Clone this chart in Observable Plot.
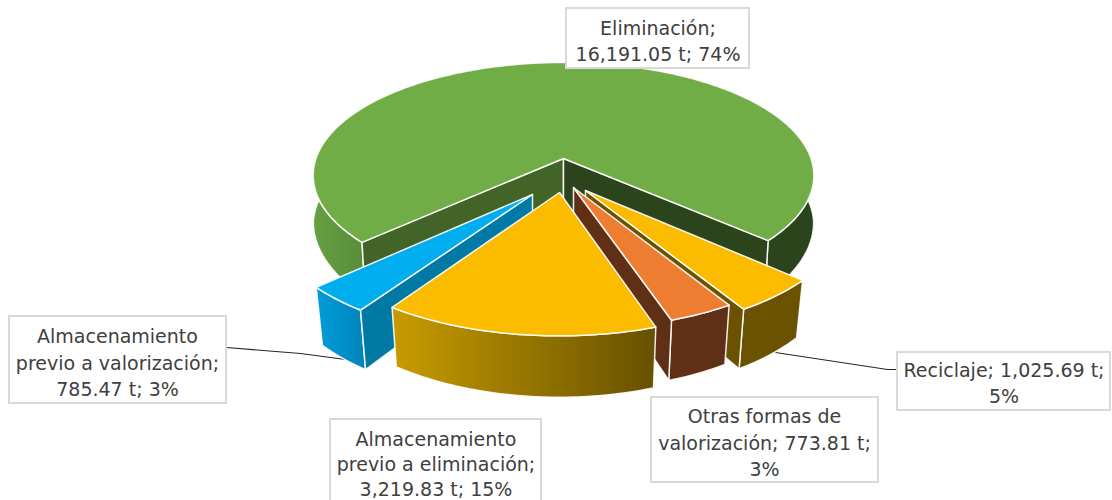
<!DOCTYPE html>
<html><head><meta charset="utf-8">
<script src="https://cdn.jsdelivr.net/npm/d3@7"></script>
<script src="https://cdn.jsdelivr.net/npm/@observablehq/plot@0.6"></script>
<style>html,body{margin:0;padding:0;background:#fff;overflow:hidden}</style>
</head><body><div id="chart"></div>
<script>
// Data, in drawing order around the pie, clockwise
const names = ["Reciclaje","Otras formas de valorización","Almacenamiento previo a eliminación","Almacenamiento previo a valorización","Eliminación"];
const tonnes = [1025.69,773.81,3219.83,785.47,16191.05];
const labelTexts = [
  "Reciclaje; 1,025.69 t;\n5%",
  "Otras formas de\nvalorización; 773.81 t;\n3%",
  "Almacenamiento\nprevio a eliminación;\n3,219.83 t; 15%",
  "Almacenamiento\nprevio a valorización;\n785.47 t; 3%",
  "Eliminación;\n16,191.05 t; 74%"
];

// Layout and style (chart units equal pixels)
const startAngle = 42;
const apexes = [[585,190],[573,187],[559,192],[532,194],[563,158]];
const topFill = ["#fbbc00","#ed7d31","#fbbc00","#00adef","#70ad47"];
const wallFill = ["#6b5200","#5f3015","url(#gElim)","url(#gVal)","url(#gGreen)"];
const startFace = [null,null,null,"#0079a5","#426527"];       // face at the slice's start edge
const endFace = ["#6b5200","#5f3015",null,null,"#2b441c"];    // face at the slice's end edge
const drawOrder = [4,3,0,1,2];
const boxes = [
  {x1:897,x2:1110,y1:352,y2:410,tx:1003.5,ty:381,lh:1.4},
  {x1:651,x2:878,y1:397,y2:482,tx:764,ty:440.5,lh:1.4},
  {x1:330,x2:541,y1:419,y2:504,tx:435.5,ty:462.5,lh:1.33},
  {x1:9,x2:226,y1:316,y2:403,tx:117,ty:360.5,lh:1.4},
  {x1:566,x2:749,y1:8,y2:68,tx:657.5,ty:39,lh:1.4}
];
const leaders = [
  [[775,352],[887,369],[897,369]],
  [[226,347],[300,353],[345,359]]
];

// Perspective of the pie's top plane
const cx = 561.5, cy = 158, a = 247.5, b = 110.4, k = 0.15;
const proj = (u,v) => { const w = 1-k*v; return {x:cx+a*u/w, y:cy+b*v/w}; };
const unproj = ([px,py]) => {
  const v = (py-cy)/(b+k*(py-cy));
  return [(px-cx)*(1-k*v)/a, v];
};
const drop = p => {
  const s = 1-0.025*Math.max(0,Math.min(1,(p.y-170)/110));
  return {x:cx+(p.x-cx)*s, y:p.y+49+0.07*(p.y-cy)};
};
const rad = d => d*Math.PI/180;

const total = d3.sum(tonnes);
let cum = startAngle;
const slices = names.map((name,i) => {
  const a0 = cum, a1 = cum + tonnes[i]/total*360; cum = a1;
  const [u0,v0] = unproj(apexes[i]);
  const rim = t => proj(u0+Math.cos(rad(t)), v0+Math.sin(rad(t)));
  return {name,i,a0,a1,rim,apex:proj(u0,v0)};
});
const angles = (s,e) => { const r=[]; for(let t=s;t<e;t+=1) r.push(t); r.push(e); return r; };

const poly = (pts,fill) => Plot.line(pts,{x:"x",y:"y",curve:"linear-closed",fill,stroke:"#fff",strokeWidth:1.5,strokeOpacity:0.9});
const marks = [];

for (const l of leaders) marks.push(Plot.line(l.map(([x,y])=>({x,y})),{x:"x",y:"y",stroke:"#262626",strokeWidth:1.2}));

for (const i of drawOrder) {
  const s = slices[i];
  const wallRuns = [];
  // Only the near part of the rim can be seen
  let run = [];
  for (const t of angles(s.a0,s.a1)) {
    const near = Math.sin(rad(t)) > -0.16;
    if (near) run.push(t); else { if (run.length) wallRuns.push(run); run=[]; }
  }
  if (run.length) wallRuns.push(run);
  const face = (p,fill) => poly([s.apex,p,drop(p),drop(s.apex)],fill);
  wallRuns.forEach((r,idx) => {
    const topArc = r.map(s.rim);
    const fill = i===4 ? (idx===0 ? "url(#gGreen)" : "#2b441c") : wallFill[i];
    marks.push(poly([...topArc,...topArc.slice().reverse().map(drop)],fill));
  });
  if (startFace[i]) marks.push(face(s.rim(s.a0),startFace[i]));
  if (endFace[i]) marks.push(face(s.rim(s.a1),endFace[i]));
  marks.push(poly([s.apex,...angles(s.a0,s.a1).map(s.rim)],topFill[i]));
}

const labels = boxes.map((b,i)=>({...b,text:labelTexts[i]}));
marks.push(Plot.rect(labels,{x1:"x1",x2:"x2",y1:"y1",y2:"y2",fill:"#fff",stroke:"#d9d9d9",strokeWidth:2}));
for (const l of labels) marks.push(Plot.text([l],{x:"tx",y:"ty",text:"text",fill:"#404040",fontSize:19,lineHeight:l.lh,textAnchor:"middle",lineAnchor:"middle"}));

const plot = Plot.plot({
  width:1112,height:500,margin:0,
  style:{fontFamily:"'DejaVu Sans',sans-serif",background:"#fff",overflow:"hidden"},
  x:{domain:[0,1112],range:[0,1112],axis:null},
  y:{domain:[0,500],range:[0,500],axis:null},
  marks
});
const defs = d3.select(plot).insert("defs",":first-child");
const grad = (id,x1,x2,stops) => {
  const g = defs.append("linearGradient").attr("id",id).attr("gradientUnits","userSpaceOnUse")
    .attr("x1",x1).attr("x2",x2).attr("y1",0).attr("y2",0);
  stops.forEach(([o,c])=>g.append("stop").attr("offset",o).attr("stop-color",c));
};
grad("gElim",393,657,[[0,"#c79b00"],[1,"#665000"]]);
grad("gVal",318,367,[[0,"#009bd9"],[1,"#0083b8"]]);
grad("gGreen",312,370,[[0,"#66a043"],[1,"#578a39"]]);
document.getElementById("chart").appendChild(plot);
</script></body></html>
